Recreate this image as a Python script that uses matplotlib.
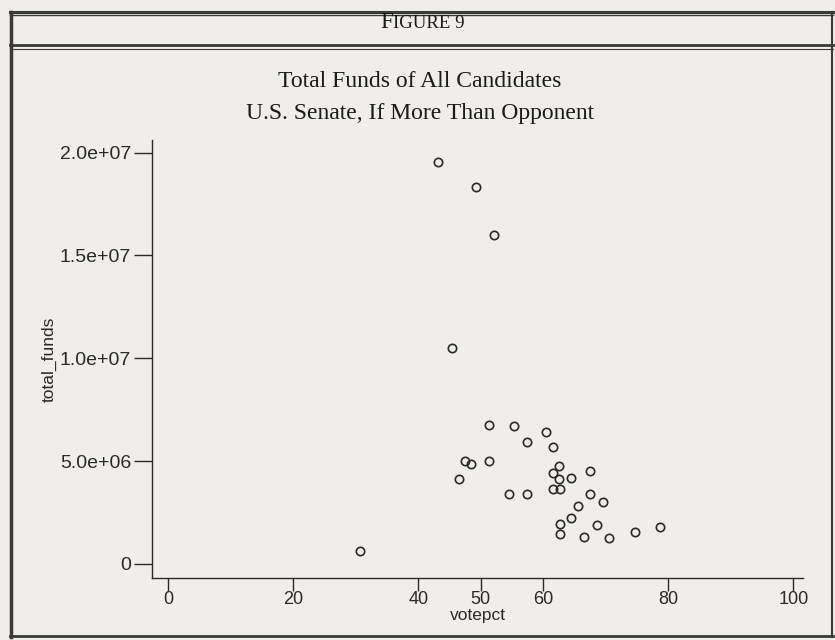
import matplotlib.pyplot as plt
from matplotlib.lines import Line2D
from matplotlib.ticker import FuncFormatter

# votepct / total_funds
votepct = [30.7, 43.2, 49.3, 52.2, 45.4,
           51.4, 55.4, 60.4, 57.4, 61.5, 47.5, 48.5, 51.4, 46.6,
           62.5, 61.5, 67.4, 62.5, 64.5, 61.5, 62.6, 54.5, 57.4,
           67.4, 69.5, 65.6, 64.5, 68.6, 62.6, 62.6, 66.5, 70.5,
           74.6, 78.6]
total_funds = [0.63e6, 19.56e6, 18.3e6, 16.0e6, 10.5e6,
               6.75e6, 6.71e6, 6.39e6, 5.91e6, 5.70e6, 5.01e6, 4.87e6, 5.01e6, 4.13e6,
               4.76e6, 4.40e6, 4.53e6, 4.11e6, 4.17e6, 3.66e6, 3.66e6, 3.38e6, 3.38e6,
               3.40e6, 3.00e6, 2.80e6, 2.23e6, 1.89e6, 1.94e6, 1.47e6, 1.30e6, 1.28e6,
               1.54e6, 1.81e6]

x_ticks = [0, 20, 40, 50, 60, 80, 100]
y_ticks = [0, 5e6, 1e7, 1.5e7, 2e7]

bg = '#efeeea'
ink = '#2a2a2a'
serif = ['Liberation Serif', 'DejaVu Serif']
sans = ['Liberation Sans', 'DejaVu Sans']

fig = plt.figure(figsize=(8.35, 6.4), dpi=100, facecolor=bg)
ax = fig.add_axes([0.182, 0.097, 0.78, 0.684], facecolor=bg)

ax.plot(votepct, total_funds, 'o', markersize=6, markerfacecolor='none',
        markeredgecolor=ink, markeredgewidth=1.2, linestyle='none')

ax.set_xlim(-2.6, 101.6)
ax.set_ylim(-0.68e6, 20.6e6)
ax.set_xticks(x_ticks)
ax.set_yticks(y_ticks)
ax.yaxis.set_major_formatter(FuncFormatter(lambda v, p: '0' if v == 0 else f'{v:.1e}'))

for s in ['top', 'right']:
    ax.spines[s].set_visible(False)
for s in ['left', 'bottom']:
    ax.spines[s].set_color(ink)
    ax.spines[s].set_linewidth(1.0)
ax.tick_params(direction='out', width=1.0, color=ink, labelcolor=ink)
ax.tick_params(axis='x', length=9, pad=0.5, labelsize=13)
ax.tick_params(axis='y', length=13, pad=2, labelsize=14)
for lab in ax.get_xticklabels() + ax.get_yticklabels():
    lab.set_family(sans)

ax.set_xlabel('votepct', family=sans, fontsize=12.5, color=ink)
ax.xaxis.set_label_coords(0.5, -0.068)
ax.set_ylabel('total_funds', family=sans, fontsize=12.5, color=ink)
ax.yaxis.set_label_coords(-0.146, 0.5)

# titles
fig.text(0.503, 0.873, 'Total Funds of All Candidates', ha='center', va='center',
         family=serif, fontsize=17, color='#1a1a1a')
fig.text(0.503, 0.823, 'U.S. Senate, If More Than Opponent', ha='center', va='center',
         family=serif, fontsize=17, color='#1a1a1a')
fig.text(0.471, 0.957, 'F', ha='right', va='baseline', family=serif, fontsize=16.5, color='#1a1a1a')
fig.text(0.471, 0.957, 'IGURE 9', ha='left', va='baseline', family=serif, fontsize=13.5, color='#1a1a1a')

# page frame of the scanned figure
frame = dict(transform=fig.transFigure, color='#3a3a3a')
for y, lw in [(0.982, 2.2), (0.976, 1.0), (0.929, 2.0), (0.923, 0.8)]:
    fig.add_artist(Line2D([0.012, 0.998], [y, y], linewidth=lw, **frame))
fig.add_artist(Line2D([0.013, 0.013], [0.005, 0.982], linewidth=2.5, **frame))
fig.add_artist(Line2D([0.997, 0.997], [0.005, 0.982], linewidth=1.5, **frame))
fig.add_artist(Line2D([0.012, 0.998], [0.006, 0.006], linewidth=2.0, **frame))

fig.savefig('out.png', dpi=100, facecolor=bg)
